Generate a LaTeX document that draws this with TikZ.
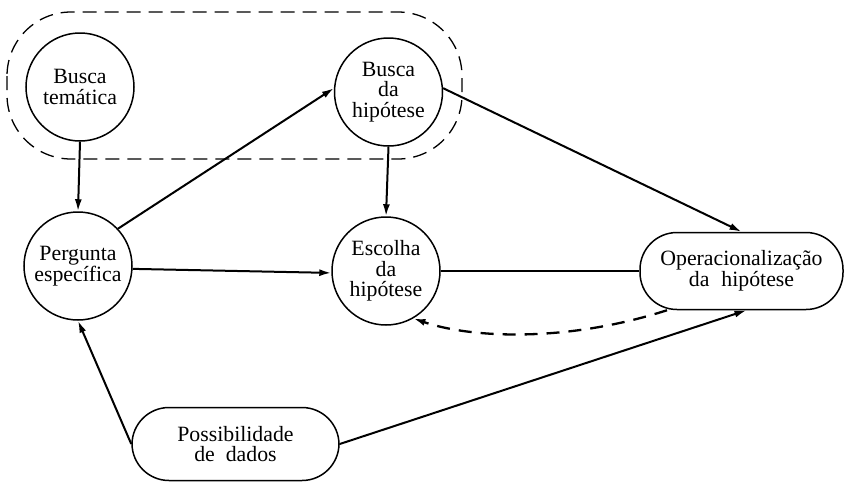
\documentclass[tikz,border=0pt]{standalone}
\usepackage{fontspec}
\setmainfont{Liberation Serif}
\usetikzlibrary{arrows.meta}
\begin{document}
\begin{tikzpicture}[x=1pt,y=-1pt,
  every node/.style={font=\fontsize{21.8}{20.5}\selectfont, align=center, inner sep=0pt},
  circ/.style={draw, circle, line width=1.5pt, minimum size=108pt},
  pill/.style={draw, rectangle, rounded corners=37pt, line width=1.5pt, minimum width=205pt, minimum height=75pt},
  conn/.style={line width=2pt},
  arr/.style={conn, -{Latex[length=12pt,width=7pt]}},
  grp/.style={line width=1.3pt, dash pattern=on 14pt off 8pt, rounded corners=64pt},
  back/.style={line width=2.3pt, dash pattern=on 13pt off 9pt, -{Latex[length=12pt,width=7pt]}}
]
\useasboundingbox (0,0) rectangle (844,482);
\node[circ] (bt) at (80,87) {Busca\\temática};
\node[circ] (bh) at (388.5,92) {Busca\\da\\hipótese};
\node[circ] (pe) at (78,266) {Pergunta\\específica};
\node[circ] (eh) at (386,271) {Escolha\\da\\hipótese};
\node[pill, minimum width=203pt, minimum height=77pt] (oh) at (741.5,271) {Operacionalização\\da\hspace{0.55em}hipótese};
\node[pill, minimum width=207pt, minimum height=73pt] (pd) at (235.5,444) {Possibilidade\\de\hspace{0.5em}dados};
\draw[grp] (7,12) rectangle (462,159);
\draw[arr] (bt.south) -- (pe.north);
\draw[arr] (pe.43) -- (bh.176);
\draw[arr] (bh.south) -- (eh.north);
\draw[arr] (bh.4) -- (oh.north);
\draw[arr] (pe.-3) -- (eh.182);
\draw[conn] (eh.east) -- (oh.west);
\draw[back] ([xshift=-74.5pt]oh.south) .. controls (565,343) and (470,338) .. (eh.-60);
\draw[arr] (pd.west) -- (pe.south);
\draw[arr] (pd.east) -- ([xshift=5pt]oh.south);
\end{tikzpicture}
\end{document}
